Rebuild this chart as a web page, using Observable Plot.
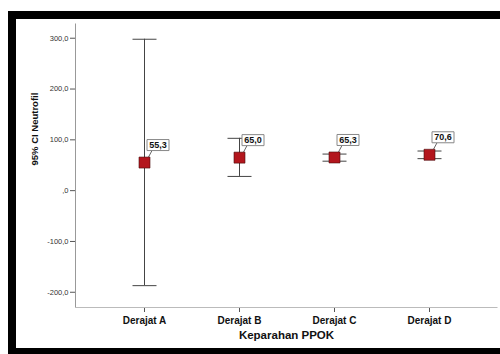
<!DOCTYPE html>
<html>
<head>
<meta charset="utf-8">
<script src="https://cdn.jsdelivr.net/npm/d3@7"></script>
<script src="https://cdn.jsdelivr.net/npm/@observablehq/plot@0.6"></script>
<style>
  html, body { margin: 0; padding: 0; background: #fff; width: 500px; height: 354px; overflow: hidden; }
  .band { position: absolute; background: #000; }
  #chart { position: absolute; left: 16px; top: 19px; width: 484px; height: 329px; overflow: hidden; }
  #chart svg { font-family: "Liberation Sans", Arial, sans-serif; display: block; }
</style>
</head>
<body>
<div id="chart"></div>
<div class="band" style="left:8px;top:11px;width:492px;height:8px;"></div>
<div class="band" style="left:8px;top:11px;width:8px;height:343px;"></div>
<div class="band" style="left:8px;top:348px;width:492px;height:6px;"></div>
<script>
const categories = ["Derajat A", "Derajat B", "Derajat C", "Derajat D"];
const means = [55.3, 65.0, 65.3, 70.6];
const lower = [-187, 28, 58, 63];
const upper = [298, 103, 72, 78];
const labels = ["55,3", "65,0", "65,3", "70,6"];
const yTicks = [-200, -100, 0, 100, 200, 300];

const data = categories.map((c, i) => ({cat: c, mean: means[i], lo: lower[i], hi: upper[i], label: labels[i]}));

const capSymbol = {draw(ctx) { ctx.moveTo(-12, 0); ctx.lineTo(12, 0); }};
const squareSymbol = {draw(ctx) { ctx.rect(-5.5, -5.5, 11, 11); }};
const leaderSymbol = {draw(ctx) { ctx.moveTo(4, -5.5); ctx.lineTo(7.5, -12); }};
const boxSymbol = {draw(ctx) { ctx.rect(2.5, -23, 22, 11); }};

const fmt = d => d === 0 ? ",0" : d.toFixed(1).replace(".", ",");

const W = 484, H = 329, ML = 59, MR = 3, MT = 4, MB = 41;
const fw = W - ML - MR, fh = H - MT - MB;

const chart = Plot.plot({
  width: W,
  height: H,
  marginLeft: ML,
  marginRight: MR,
  marginTop: MT,
  marginBottom: MB,
  style: {background: "#fff", fontFamily: "'Liberation Sans', Arial, sans-serif"},
  x: {type: "point", domain: categories, padding: 0.72, label: null},
  y: {domain: [-230, 329], label: null},
  marks: [
    Plot.axisY({ticks: yTicks, tickFormat: fmt, tickSize: 5, tickPadding: 2, fontSize: 7.5, color: "#333", stroke: "#555", label: null}),
    Plot.axisX({tickSize: 5, tickPadding: 4, fontSize: 10, fontWeight: "bold", color: "#111", stroke: "#555", label: null}),
    // bottom edge only
    Plot.frame({stroke: "#bbb", strokeDasharray: `0 ${fw + fh} ${fw} ${fh + 10}`}),
    // left edge only
    Plot.frame({stroke: "#999", strokeDasharray: `0 ${2 * fw + fh} ${fh + 10}`}),
    Plot.ruleX(data, {x: "cat", y1: "lo", y2: "hi", stroke: "#444", strokeWidth: 1}),
    Plot.dot(data, {x: "cat", y: "lo", symbol: capSymbol, fill: "none", stroke: "#444", strokeWidth: 1}),
    Plot.dot(data, {x: "cat", y: "hi", symbol: capSymbol, fill: "none", stroke: "#444", strokeWidth: 1}),
    Plot.dot(data, {x: "cat", y: "mean", symbol: leaderSymbol, fill: "none", stroke: "#666", strokeWidth: 1}),
    Plot.dot(data, {x: "cat", y: "mean", symbol: squareSymbol, fill: "#b3161d", stroke: "#4a0b0b", strokeWidth: 0.6}),
    Plot.dot(data, {x: "cat", y: "mean", symbol: boxSymbol, fill: "#fff", stroke: "#888", strokeWidth: 1}),
    Plot.text(data, {x: "cat", y: "mean", text: "label", dx: 13.5, dy: -17.5, fontSize: 9, fontWeight: "bold", fill: "#111"}),
    Plot.text(["Keparahan PPOK"], {frameAnchor: "bottom", dy: 31, fontSize: 11.5, fontWeight: "bold", fill: "#111"}),
    Plot.text(["95% CI Neutrofil"], {frameAnchor: "left", dx: -41, rotate: -90, fontSize: 9.5, fontWeight: "bold", fill: "#111"})
  ]
});
document.getElementById("chart").appendChild(chart);
</script>
</body>
</html>
